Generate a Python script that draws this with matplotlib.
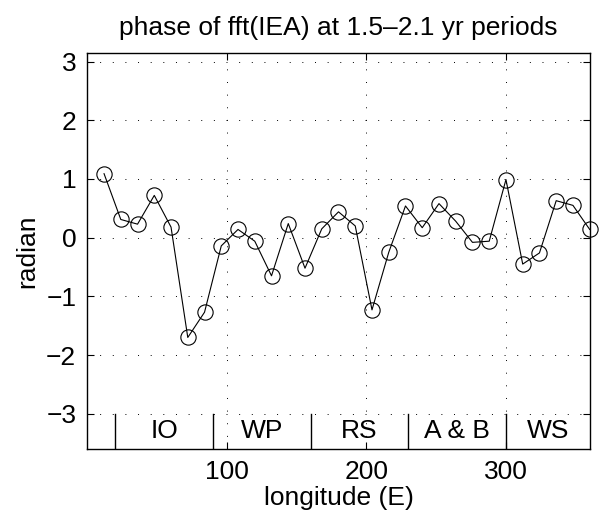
import numpy as np
import matplotlib.pyplot as plt

plt.rcParams['font.family'] = ['Liberation Sans', 'DejaVu Sans']

# longitude of each point and its phase (radian)
lon = np.arange(12, 361, 12)
phase = [1.09, 0.31, 0.23, 0.72, 0.18, -1.70, -1.27, -0.14, 0.14, -0.06,
         -0.65, 0.24, -0.52, 0.15, 0.44, 0.20, -1.23, -0.25, 0.54, 0.17,
         0.58, 0.28, -0.08, -0.06, 0.99, -0.45, -0.26, 0.63, 0.55, 0.14]

# ocean regions along the bottom strip
bounds = [20, 90, 160, 230, 300]
regions = ['IO', 'WP', 'RS', 'A & B', 'WS']
region_mid = [55, 125, 195, 265, 330]

fs = 19

fig = plt.figure(figsize=(6.05, 5.28), dpi=100)
ax = fig.add_axes([0.1443, 0.1496, 0.8304, 0.7494])

ax.plot(lon, phase, '-', color='k', lw=0.8, marker='o', ms=11,
        mfc='none', mec='k', mew=0.8, clip_on=False)

for b in bounds:
    ax.plot([b, b], [-3.6, -3], color='k', lw=1.0)
for name, m in zip(regions, region_mid):
    ax.text(m, -3.3, name, ha='center', va='center', fontsize=fs)

ax.set_xlim(0, 360)
ax.set_ylim(-3.6, 3.14)
ax.set_xticks([100, 200, 300])
ax.set_yticks(range(-3, 4))
ax.set_yticklabels(['\u22123', '\u22122', '\u22121', '0', '1', '2', '3'])
ax.grid(True, ls=(0, (1, 12)), color='k', lw=0.7)
ax.tick_params(direction='in', top=True, right=True, labelsize=fs,
               length=5, pad=8)
for s in ax.spines.values():
    s.set_linewidth(1.0)

ax.set_xlabel('longitude (E)', fontsize=fs, labelpad=1)
ax.set_ylabel('radian', fontsize=fs, labelpad=5)
ax.set_title('phase of fft(IEA) at 1.5\u20132.1 yr periods', fontsize=fs, pad=13)

fig.savefig('out.png', dpi=100)
